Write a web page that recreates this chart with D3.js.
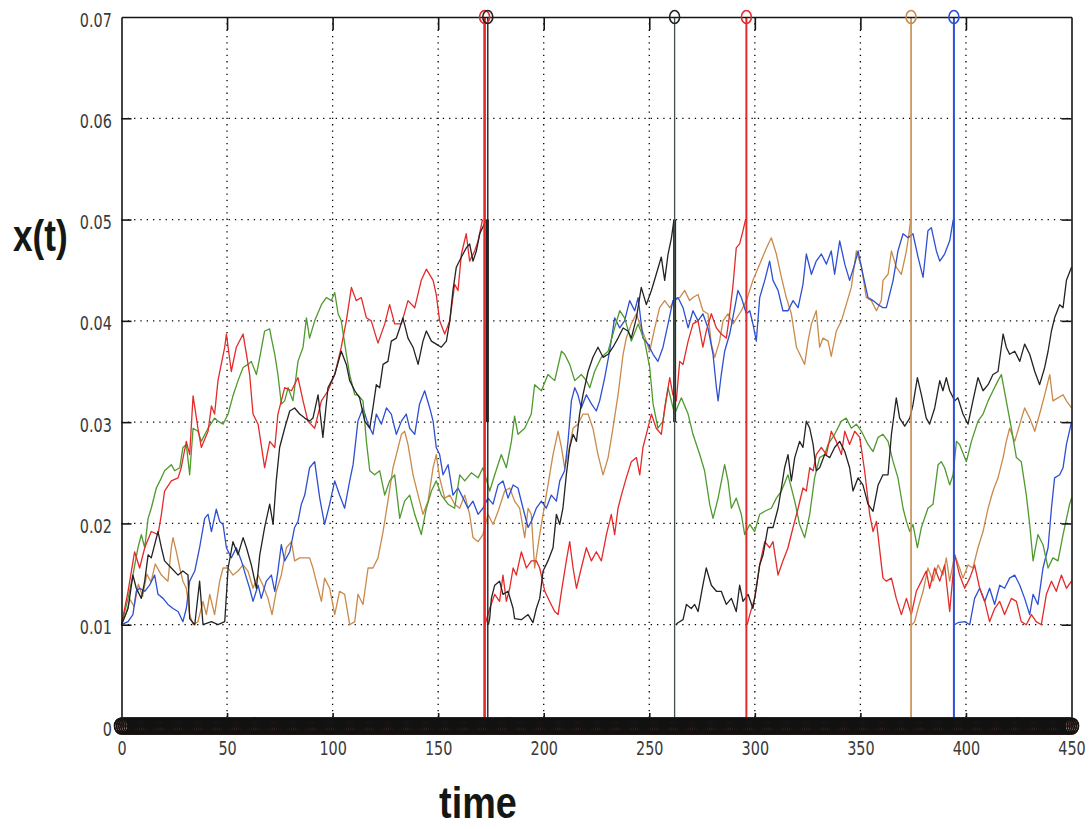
<!DOCTYPE html>
<html><head><meta charset="utf-8">
<script src="https://cdn.jsdelivr.net/npm/d3@7"></script>
<style>
html,body{margin:0;padding:0;background:#fff;}
svg{display:block;}
</style></head><body>
<svg id="chart" width="1092" height="829"></svg>
<script>
// ---------------- DATA ----------------
const xTicks = [0,50,100,150,200,250,300,350,400,450];
const xTickLabels = ['0','50','100','150','200','250','300','350','400','450'];
const yTicks = [0,0.01,0.02,0.03,0.04,0.05,0.06,0.07];
const yTickLabels = ['0','0.01','0.02','0.03','0.04','0.05','0.06','0.07'];
const xLabel = 'time';
const yLabel = 'x(t)';
const seriesOrder = ['brown','blue','green','red','black'];
const seriesColors = {red:'#e42a2a', green:'#4f9a2e', black:'#232323', blue:'#2d4fd2', brown:'#c98a4b'};

// null = restart after the threshold was hit
const red = [[0,0.0100],[3.1,0.0133],[6.2,0.0172],[8.6,0.0156],[11.0,0.0176],[14.1,0.0192],[17.3,0.0189],[18.9,0.0209],[20.4,0.0232],[23.6,0.0242],[26.8,0.0245],[28.3,0.0255],[30.7,0.0281],[32.3,0.0268],[33.9,0.0326],[36.2,0.0294],[37.8,0.0275],[41.0,0.0291],[42.6,0.0316],[44.1,0.0308],[45.7,0.0341],[48.9,0.0374],[49.7,0.0387],[52.0,0.0350],[54.4,0.0374],[57.6,0.0387],[59.2,0.0367],[60.7,0.0347],[62.3,0.0308],[64.7,0.0298],[67.8,0.0255],[70.2,0.0281],[72.6,0.0275],[74.1,0.0308],[77.3,0.0334],[80.5,0.0331],[83.6,0.0344],[86.0,0.0321],[88.3,0.0301],[91.5,0.0294],[94.7,0.0321],[97.8,0.0331],[101.0,0.0347],[104.1,0.0374],[106.5,0.0400],[108.9,0.0433],[111.2,0.0420],[113.6,0.0423],[116.0,0.0403],[118.3,0.0400],[121.5,0.0378],[124.7,0.0397],[127.0,0.0416],[129.4,0.0397],[132.6,0.0397],[135.7,0.0420],[138.9,0.0413],[142.0,0.0440],[144.4,0.0451],[147.6,0.0440],[149.1,0.0426],[150.7,0.0400],[153.1,0.0387],[155.5,0.0400],[157.8,0.0436],[159.4,0.0430],[161.0,0.0466],[163.3,0.0486],[164.9,0.0459],[167.3,0.0469],[168.9,0.0479],[171.0,0.0500],
null,
[172.2,0.0100],[174.4,0.0116],[176.8,0.0130],[179.1,0.0123],[180.7,0.0149],[182.3,0.0123],[183.9,0.0136],[185.5,0.0156],[187.0,0.0149],[189.4,0.0172],[191.8,0.0156],[194.1,0.0163],[196.5,0.0163],[198.1,0.0156],[200.5,0.0133],[202.8,0.0123],[205.2,0.0113],[206.8,0.0110],[208.4,0.0133],[210.7,0.0163],[212.3,0.0182],[213.9,0.0156],[215.5,0.0136],[217.8,0.0156],[220.2,0.0176],[222.6,0.0163],[224.9,0.0172],[227.3,0.0163],[229.7,0.0189],[232.0,0.0209],[233.6,0.0189],[235.2,0.0215],[236.8,0.0228],[239.1,0.0245],[241.5,0.0261],[243.9,0.0265],[245.5,0.0248],[247.0,0.0275],[248.6,0.0288],[251.0,0.0308],[253.3,0.0294],[255.7,0.0288],[257.3,0.0314],[259.7,0.0344],[261.2,0.0327],[262.8,0.0321],[264.4,0.0360],[266.0,0.0357],[268.4,0.0380],[270.7,0.0397],[273.1,0.0400],[275.4,0.0374],[277.0,0.0390],[279.4,0.0407],[281.8,0.0393],[284.1,0.0387],[286.5,0.0383],[288.1,0.0407],[289.7,0.0436],[291.2,0.0472],[292.8,0.0476],[294.4,0.0489],[295.6,0.0500],
null,
[296.4,0.0100],[297.6,0.0110],[299.9,0.0126],[302.3,0.0159],[304.7,0.0182],[307.0,0.0176],[308.6,0.0182],[311.0,0.0149],[313.3,0.0163],[315.7,0.0176],[318.1,0.0196],[320.5,0.0215],[322.8,0.0235],[324.4,0.0232],[326.0,0.0255],[327.6,0.0252],[329.1,0.0268],[331.5,0.0275],[333.9,0.0268],[336.2,0.0291],[338.6,0.0281],[341.0,0.0268],[342.6,0.0291],[344.9,0.0278],[347.3,0.0291],[349.7,0.0285],[352.0,0.0252],[354.4,0.0209],[356.0,0.0192],[357.6,0.0202],[359.9,0.0160],[360.7,0.0146],[362.3,0.0143],[364.7,0.0146],[367.0,0.0126],[369.4,0.0110],[371.8,0.0126],[374.1,0.0110],[376.5,0.0133],[378.9,0.0143],[381.2,0.0153],[382.8,0.0136],[385.2,0.0156],[387.6,0.0143],[389.9,0.0159],[392.3,0.0113],[394.7,0.0169],[397.0,0.0149],[399.4,0.0136],[401.8,0.0146],[404.1,0.0159],[406.5,0.0136],[408.9,0.0123],[411.2,0.0103],[413.6,0.0116],[416.0,0.0123],[418.3,0.0110],[421.5,0.0126],[423.9,0.0123],[426.2,0.0103],[428.6,0.0100],[431.0,0.0110],[433.3,0.0103],[435.7,0.0100],[438.1,0.0130],[440.5,0.0143],[442.8,0.0133],[445.2,0.0149],[447.6,0.0136],[450.0,0.0143]];

const green = [[0,0.0100],[0.7,0.0106],[3.1,0.0126],[5.4,0.0149],[7.8,0.0176],[9.4,0.0189],[11.0,0.0176],[12.6,0.0205],[14.1,0.0215],[16.5,0.0235],[18.9,0.0245],[20.4,0.0252],[23.6,0.0258],[25.2,0.0252],[27.6,0.0255],[29.1,0.0275],[30.7,0.0278],[32.3,0.0248],[33.9,0.0294],[36.2,0.0291],[37.8,0.0281],[41.0,0.0294],[44.1,0.0304],[45.7,0.0301],[48.1,0.0298],[50.5,0.0308],[52.8,0.0326],[55.2,0.0341],[57.6,0.0354],[59.9,0.0357],[61.5,0.0360],[63.9,0.0347],[65.5,0.0364],[67.8,0.0390],[70.2,0.0392],[71.0,0.0383],[72.6,0.0367],[74.1,0.0347],[75.7,0.0318],[77.3,0.0321],[78.9,0.0334],[81.2,0.0321],[83.6,0.0360],[86.0,0.0374],[87.6,0.0403],[89.1,0.0383],[91.5,0.0400],[94.7,0.0416],[97.0,0.0423],[99.4,0.0420],[101.0,0.0428],[102.6,0.0407],[104.1,0.0400],[106.5,0.0367],[108.1,0.0347],[110.5,0.0327],[112.0,0.0327],[114.4,0.0321],[116.0,0.0281],[117.6,0.0252],[119.9,0.0248],[122.3,0.0252],[124.7,0.0228],[127.0,0.0242],[129.4,0.0248],[131.8,0.0205],[134.1,0.0222],[136.5,0.0228],[138.9,0.0209],[142.0,0.0189],[144.4,0.0215],[146.8,0.0232],[149.1,0.0242],[151.5,0.0228],[154.7,0.0219],[157.8,0.0215],[160.2,0.0248],[162.6,0.0242],[165.7,0.0250],[168.9,0.0245],[171.2,0.0255],[174.4,0.0232],[176.8,0.0248],[179.9,0.0268],[182.3,0.0255],[184.7,0.0281],[186.2,0.0306],[187.8,0.0288],[191.0,0.0294],[194.1,0.0308],[195.7,0.0337],[198.9,0.0331],[202.0,0.0347],[205.2,0.0341],[208.4,0.0370],[209.9,0.0367],[212.3,0.0357],[214.7,0.0341],[217.8,0.0347],[220.2,0.0341],[221.8,0.0334],[224.1,0.0350],[227.3,0.0364],[230.5,0.0370],[233.6,0.0393],[236.0,0.0410],[238.3,0.0403],[241.5,0.0380],[244.7,0.0397],[247.8,0.0380],[250.2,0.0354],[251.8,0.0318],[254.1,0.0294],[256.5,0.0301],[258.9,0.0334],[262.0,0.0308],[265.2,0.0324],[268.4,0.0308],[270.7,0.0288],[273.9,0.0268],[276.2,0.0252],[278.6,0.0219],[280.2,0.0205],[282.6,0.0225],[285.7,0.0258],[287.3,0.0242],[288.9,0.0215],[291.2,0.0225],[293.6,0.0209],[295.2,0.0189],[297.6,0.0199],[299.9,0.0192],[302.3,0.0209],[304.7,0.0212],[307.8,0.0215],[310.2,0.0225],[312.6,0.0232],[315.7,0.0248],[318.9,0.0222],[321.2,0.0199],[323.6,0.0186],[326.0,0.0209],[328.3,0.0245],[330.7,0.0265],[333.1,0.0268],[334.7,0.0278],[337.8,0.0288],[341.0,0.0301],[343.3,0.0304],[345.7,0.0294],[348.1,0.0298],[350.5,0.0291],[353.6,0.0278],[356.0,0.0271],[358.4,0.0285],[360.7,0.0288],[363.1,0.0281],[365.5,0.0261],[367.8,0.0245],[370.2,0.0215],[371.8,0.0202],[373.4,0.0192],[374.9,0.0199],[377.0,0.0176],[378.9,0.0196],[382.0,0.0215],[384.4,0.0219],[386.8,0.0258],[388.3,0.0261],[389.9,0.0255],[392.3,0.0238],[393.9,0.0248],[395.5,0.0281],[397.0,0.0278],[400.2,0.0261],[402.6,0.0281],[405.7,0.0301],[408.1,0.0308],[410.5,0.0321],[412.8,0.0331],[415.2,0.0341],[416.8,0.0347],[419.1,0.0321],[421.5,0.0294],[423.9,0.0265],[426.2,0.0261],[428.6,0.0228],[430.2,0.0199],[431.8,0.0163],[434.1,0.0189],[436.5,0.0179],[438.9,0.0156],[441.2,0.0166],[443.6,0.0163],[446.0,0.0189],[449.1,0.0219],[450.0,0.0225]];

const black = [[0,0.0100],[3.1,0.0116],[5.4,0.0149],[7.0,0.0136],[9.4,0.0126],[11.0,0.0143],[12.6,0.0169],[14.1,0.0166],[17.3,0.0192],[18.9,0.0176],[20.4,0.0163],[23.6,0.0156],[26.8,0.0149],[29.1,0.0153],[31.5,0.0149],[32.3,0.0106],[34.7,0.0100],[37.0,0.0143],[38.6,0.0100],[42.6,0.0103],[45.7,0.0100],[48.9,0.0103],[50.5,0.0156],[52.8,0.0182],[55.2,0.0169],[57.6,0.0186],[59.2,0.0176],[61.5,0.0159],[63.9,0.0136],[65.5,0.0169],[67.8,0.0196],[70.2,0.0219],[71.8,0.0199],[73.3,0.0242],[74.9,0.0275],[77.3,0.0294],[79.7,0.0311],[82.0,0.0314],[84.4,0.0308],[86.8,0.0304],[89.1,0.0301],[90.7,0.0304],[93.1,0.0327],[95.4,0.0285],[97.8,0.0334],[101.0,0.0347],[104.1,0.0370],[106.5,0.0357],[108.1,0.0341],[110.5,0.0331],[112.8,0.0324],[115.2,0.0301],[117.6,0.0294],[119.1,0.0314],[120.7,0.0337],[122.3,0.0334],[123.9,0.0357],[126.2,0.0360],[127.8,0.0380],[130.2,0.0383],[131.8,0.0393],[133.3,0.0403],[135.7,0.0383],[138.1,0.0374],[140.5,0.0357],[142.8,0.0380],[144.4,0.0390],[146.8,0.0380],[149.1,0.0377],[151.5,0.0374],[153.9,0.0380],[155.5,0.0400],[157.0,0.0430],[158.6,0.0453],[161.0,0.0463],[163.3,0.0472],[164.9,0.0476],[166.5,0.0459],[168.1,0.0469],[169.7,0.0486],[172.8,0.0500],
null,
[173.8,0.0100],[174.4,0.0106],[175.2,0.0126],[176.8,0.0139],[179.1,0.0143],[180.7,0.0130],[183.1,0.0133],[185.5,0.0116],[186.2,0.0106],[189.4,0.0105],[192.6,0.0110],[194.9,0.0102],[196.5,0.0116],[198.1,0.0126],[199.7,0.0153],[202.0,0.0163],[204.4,0.0176],[206.0,0.0209],[207.6,0.0199],[209.1,0.0215],[210.7,0.0248],[212.3,0.0275],[213.9,0.0288],[215.5,0.0281],[217.0,0.0308],[218.6,0.0327],[221.0,0.0350],[223.3,0.0364],[225.7,0.0374],[228.1,0.0364],[230.5,0.0367],[232.8,0.0374],[235.2,0.0383],[237.6,0.0393],[239.9,0.0390],[241.5,0.0383],[243.9,0.0403],[246.2,0.0433],[248.6,0.0416],[251.0,0.0430],[253.3,0.0446],[255.7,0.0463],[257.3,0.0440],[258.9,0.0466],[260.5,0.0482],[261.7,0.0500],
null,
[262.5,0.0100],[263.6,0.0102],[266.0,0.0105],[267.6,0.0120],[269.9,0.0116],[271.5,0.0120],[273.1,0.0113],[275.4,0.0139],[277.0,0.0156],[279.4,0.0139],[281.8,0.0133],[284.1,0.0133],[286.5,0.0120],[288.9,0.0126],[291.2,0.0113],[292.8,0.0139],[294.4,0.0123],[296.8,0.0130],[299.1,0.0116],[300.7,0.0136],[302.3,0.0159],[303.9,0.0169],[306.2,0.0196],[308.6,0.0196],[311.0,0.0215],[312.6,0.0235],[314.1,0.0255],[315.7,0.0268],[317.3,0.0242],[318.9,0.0265],[321.2,0.0281],[322.8,0.0275],[324.4,0.0301],[326.0,0.0294],[327.6,0.0278],[329.1,0.0252],[330.7,0.0255],[333.1,0.0268],[335.5,0.0265],[337.8,0.0275],[340.2,0.0281],[342.6,0.0271],[344.9,0.0255],[346.5,0.0232],[348.9,0.0245],[351.2,0.0238],[353.6,0.0219],[356.0,0.0212],[358.4,0.0238],[360.7,0.0248],[363.1,0.0248],[364.7,0.0288],[367.0,0.0324],[368.6,0.0304],[371.0,0.0296],[373.4,0.0304],[374.9,0.0317],[377.0,0.0344],[378.9,0.0327],[381.2,0.0304],[382.8,0.0298],[385.2,0.0314],[387.6,0.0341],[389.1,0.0331],[390.7,0.0344],[392.3,0.0331],[394.7,0.0321],[396.2,0.0324],[398.6,0.0308],[401.0,0.0298],[403.3,0.0321],[405.7,0.0344],[408.1,0.0331],[410.5,0.0337],[412.8,0.0347],[415.2,0.0350],[417.6,0.0387],[419.1,0.0374],[420.7,0.0367],[423.1,0.0370],[425.5,0.0360],[427.8,0.0377],[430.2,0.0367],[432.6,0.0350],[434.9,0.0337],[437.3,0.0354],[438.9,0.0370],[440.5,0.0390],[442.0,0.0403],[444.4,0.0416],[446.0,0.0413],[447.6,0.0440],[450.0,0.0453]];

const blue = [[0,0.0100],[3.1,0.0103],[5.4,0.0110],[7.0,0.0133],[8.6,0.0136],[11.0,0.0133],[13.3,0.0139],[15.7,0.0149],[17.3,0.0130],[19.7,0.0126],[22.0,0.0120],[24.4,0.0116],[26.8,0.0113],[29.1,0.0103],[30.7,0.0116],[32.3,0.0143],[34.7,0.0153],[37.0,0.0176],[39.4,0.0205],[41.0,0.0209],[42.6,0.0192],[44.9,0.0214],[46.5,0.0202],[48.1,0.0199],[49.7,0.0176],[52.0,0.0166],[54.4,0.0176],[56.8,0.0163],[59.2,0.0146],[60.7,0.0136],[62.3,0.0123],[64.7,0.0139],[66.2,0.0126],[68.6,0.0143],[71.0,0.0149],[72.6,0.0133],[74.1,0.0153],[75.7,0.0179],[77.3,0.0163],[79.7,0.0172],[82.0,0.0196],[83.6,0.0202],[85.2,0.0219],[86.8,0.0228],[89.1,0.0255],[91.5,0.0261],[93.9,0.0225],[96.2,0.0199],[98.6,0.0219],[101.0,0.0242],[103.3,0.0228],[105.7,0.0215],[108.1,0.0242],[109.7,0.0258],[112.0,0.0301],[114.4,0.0314],[116.8,0.0298],[119.1,0.0288],[120.7,0.0308],[123.1,0.0298],[125.5,0.0314],[127.8,0.0308],[130.2,0.0288],[132.6,0.0301],[134.9,0.0308],[136.5,0.0294],[138.9,0.0288],[141.2,0.0318],[143.6,0.0331],[146.0,0.0314],[147.6,0.0301],[149.1,0.0275],[150.7,0.0268],[152.3,0.0248],[154.7,0.0258],[157.0,0.0228],[159.4,0.0235],[161.8,0.0225],[164.1,0.0215],[166.5,0.0222],[168.9,0.0209],[171.2,0.0215],[173.6,0.0225],[176.0,0.0219],[178.4,0.0238],[180.7,0.0242],[183.1,0.0225],[185.5,0.0238],[187.8,0.0235],[190.2,0.0215],[192.6,0.0196],[194.1,0.0202],[196.5,0.0215],[198.9,0.0222],[201.2,0.0215],[203.6,0.0228],[206.0,0.0222],[207.6,0.0242],[209.9,0.0252],[211.5,0.0281],[213.1,0.0321],[214.7,0.0334],[216.2,0.0327],[217.8,0.0314],[220.2,0.0327],[222.6,0.0318],[224.9,0.0311],[226.5,0.0321],[228.9,0.0344],[231.2,0.0370],[233.6,0.0403],[236.0,0.0393],[238.3,0.0400],[240.7,0.0420],[243.1,0.0410],[244.7,0.0423],[247.0,0.0383],[249.4,0.0377],[251.8,0.0367],[254.1,0.0360],[256.5,0.0374],[258.9,0.0397],[261.2,0.0420],[263.6,0.0423],[266.0,0.0413],[268.4,0.0393],[270.7,0.0410],[273.1,0.0400],[275.4,0.0407],[277.8,0.0393],[280.2,0.0367],[281.8,0.0334],[282.6,0.0321],[284.1,0.0347],[285.7,0.0370],[288.1,0.0387],[290.5,0.0413],[292.0,0.0430],[293.6,0.0423],[296.0,0.0407],[297.6,0.0410],[299.1,0.0397],[300.7,0.0380],[302.3,0.0423],[304.7,0.0440],[307.0,0.0459],[308.6,0.0440],[311.0,0.0430],[313.3,0.0410],[315.7,0.0410],[318.1,0.0420],[320.5,0.0413],[322.8,0.0436],[324.4,0.0466],[326.8,0.0446],[329.1,0.0459],[331.5,0.0466],[333.9,0.0456],[336.2,0.0469],[337.8,0.0446],[340.2,0.0479],[342.6,0.0456],[344.9,0.0440],[347.3,0.0456],[348.9,0.0469],[351.2,0.0446],[353.6,0.0423],[356.0,0.0420],[358.4,0.0416],[360.7,0.0413],[362.3,0.0413],[365.5,0.0440],[367.8,0.0469],[370.2,0.0486],[372.6,0.0482],[374.9,0.0486],[377.3,0.0463],[379.7,0.0443],[382.0,0.0489],[383.6,0.0492],[386.0,0.0469],[387.6,0.0459],[389.9,0.0466],[392.3,0.0479],[394.0,0.0500],
null,
[394.6,0.0100],[396.2,0.0102],[399.4,0.0103],[401.8,0.0100],[404.1,0.0126],[406.5,0.0136],[408.9,0.0123],[411.2,0.0136],[413.6,0.0120],[416.0,0.0139],[418.3,0.0136],[420.7,0.0146],[423.1,0.0149],[425.5,0.0139],[427.8,0.0126],[430.2,0.0110],[431.8,0.0130],[434.1,0.0120],[436.5,0.0156],[438.9,0.0176],[440.5,0.0215],[442.0,0.0245],[444.4,0.0248],[446.0,0.0255],[447.6,0.0278],[450.0,0.0300]];

const brown = [[0,0.0100],[2.0,0.0110],[4.0,0.0125],[6.0,0.0118],[8.0,0.0140],[10.0,0.0128],[12.0,0.0150],[14.0,0.0142],[16.0,0.0160],[18.9,0.0149],[22.0,0.0143],[23.6,0.0176],[24.4,0.0186],[26.0,0.0172],[27.6,0.0156],[29.1,0.0143],[30.7,0.0136],[32.3,0.0110],[33.9,0.0100],[36.2,0.0103],[38.6,0.0123],[40.2,0.0110],[41.8,0.0130],[44.1,0.0110],[46.5,0.0143],[48.1,0.0156],[50.5,0.0156],[52.8,0.0149],[55.2,0.0153],[57.6,0.0159],[59.9,0.0153],[62.3,0.0136],[64.7,0.0149],[67.0,0.0139],[69.4,0.0126],[71.3,0.0110],[73.3,0.0133],[75.7,0.0149],[78.1,0.0176],[80.5,0.0182],[82.0,0.0163],[84.4,0.0166],[86.8,0.0166],[89.1,0.0166],[90.7,0.0156],[91.5,0.0149],[94.7,0.0123],[96.2,0.0146],[98.6,0.0136],[101.0,0.0110],[103.3,0.0133],[105.7,0.0130],[108.1,0.0100],[110.5,0.0103],[112.0,0.0130],[114.4,0.0120],[116.8,0.0156],[119.1,0.0156],[121.5,0.0166],[123.9,0.0192],[126.2,0.0222],[128.6,0.0255],[130.2,0.0268],[132.6,0.0288],[134.1,0.0291],[135.7,0.0278],[138.1,0.0248],[140.5,0.0228],[142.8,0.0209],[145.2,0.0222],[147.6,0.0255],[149.1,0.0268],[150.7,0.0245],[153.1,0.0225],[155.5,0.0228],[157.8,0.0219],[160.2,0.0215],[162.6,0.0228],[164.9,0.0209],[166.5,0.0186],[168.9,0.0182],[171.2,0.0189],[173.6,0.0209],[176.0,0.0199],[178.4,0.0212],[181.5,0.0232],[183.9,0.0235],[186.2,0.0222],[188.6,0.0215],[191.0,0.0186],[192.6,0.0215],[194.1,0.0209],[195.7,0.0156],[198.1,0.0189],[200.5,0.0219],[202.8,0.0248],[204.4,0.0268],[206.8,0.0291],[208.4,0.0275],[209.9,0.0255],[211.5,0.0268],[213.9,0.0294],[216.2,0.0298],[218.6,0.0308],[221.0,0.0308],[223.3,0.0294],[225.7,0.0268],[228.1,0.0248],[230.5,0.0265],[232.8,0.0294],[235.2,0.0327],[237.6,0.0367],[239.1,0.0383],[241.5,0.0397],[243.9,0.0407],[246.2,0.0393],[248.6,0.0380],[250.2,0.0370],[252.6,0.0393],[254.9,0.0413],[257.3,0.0420],[259.7,0.0413],[262.0,0.0420],[264.4,0.0423],[266.8,0.0430],[269.1,0.0420],[270.7,0.0423],[273.1,0.0426],[275.4,0.0410],[277.8,0.0407],[279.4,0.0377],[281.0,0.0364],[283.3,0.0380],[284.9,0.0400],[287.3,0.0407],[289.7,0.0397],[293.6,0.0410],[296.0,0.0420],[299.1,0.0440],[302.3,0.0456],[305.5,0.0472],[307.8,0.0482],[310.2,0.0466],[312.6,0.0443],[314.9,0.0423],[317.3,0.0407],[319.7,0.0374],[322.0,0.0364],[323.6,0.0357],[325.2,0.0380],[326.8,0.0397],[329.1,0.0410],[330.7,0.0374],[332.3,0.0383],[334.7,0.0380],[336.2,0.0365],[338.6,0.0390],[341.0,0.0400],[343.3,0.0416],[345.7,0.0433],[348.1,0.0469],[350.5,0.0453],[352.8,0.0423],[355.2,0.0420],[357.6,0.0410],[359.9,0.0420],[360.7,0.0440],[363.1,0.0446],[364.7,0.0469],[367.0,0.0453],[369.4,0.0446],[371.8,0.0469],[373.0,0.0486],[373.8,0.0500],
null,
[374.4,0.0100],[375.7,0.0103],[377.3,0.0116],[379.7,0.0133],[382.0,0.0156],[384.4,0.0143],[386.8,0.0159],[389.1,0.0149],[390.7,0.0166],[392.3,0.0143],[394.7,0.0169],[397.0,0.0156],[398.6,0.0146],[401.0,0.0159],[403.3,0.0156],[405.7,0.0176],[408.1,0.0192],[410.5,0.0215],[412.8,0.0232],[415.2,0.0245],[417.6,0.0265],[419.1,0.0281],[420.7,0.0294],[423.1,0.0281],[425.5,0.0298],[427.8,0.0314],[430.2,0.0304],[432.6,0.0291],[434.9,0.0308],[437.3,0.0327],[439.7,0.0347],[441.2,0.0321],[443.6,0.0324],[446.0,0.0327],[447.6,0.0321],[450.0,0.0314]];

// threshold hits: time and which series
const eventTimes = [172.0, 173.5, 262.0, 296.0, 374.0, 394.3];
const eventSeries = ['red','black','black','red','brown','blue'];
const eventMarkerLevel = 0.07;
// short heavy black drop drawn at two of the black hits
const blackDropTimes = [173.3, 262.0];
const blackDropRange = [0.05, 0.03];
// zero-level markers: one per time step for every series
const markerTimes = d3.range(0, 451, 1);

const seriesData = {red, green, black, blue, brown};

// ---------------- DRAW ----------------
const svg = d3.select('#chart');
svg.append('rect').attr('width',1092).attr('height',829).attr('fill','#fff');

const X0 = 121.5, X1 = 1071.5, Y0 = 726, Y1 = 17;
const x = d3.scaleLinear().domain([0,450]).range([X0,X1]);
const y = d3.scaleLinear().domain([0,0.07]).range([Y0,Y1]);
const tickFont = '"Liberation Sans Narrow","Arial Narrow","DejaVu Sans Condensed",sans-serif';

// grid
const grid = svg.append('g');
grid.selectAll('line.gx').data(xTicks.slice(1,-1)).join('line')
  .attr('x1',d=>x(d)).attr('x2',d=>x(d)).attr('y1',Y1).attr('y2',Y0)
  .attr('stroke','#000').attr('stroke-width',1.3).attr('stroke-dasharray','1.3,5');
grid.selectAll('line.gy').data(yTicks.slice(1,-1)).join('line')
  .attr('y1',d=>y(d)).attr('y2',d=>y(d)).attr('x1',X0).attr('x2',X1)
  .attr('stroke','#000').attr('stroke-width',1.3).attr('stroke-dasharray','1.3,5');

// series
const line = d3.line().defined(d=>d!==null).x(d=>x(d[0])).y(d=>y(d[1]));
const lines = svg.append('g');
seriesOrder.forEach(name=>{
  lines.append('path').datum(seriesData[name]).attr('d',line)
    .attr('fill','none').attr('stroke',seriesColors[name]).attr('stroke-width',1.3)
    .attr('stroke-linejoin','round');
});

// heavy black drops
svg.append('g').selectAll('line').data(blackDropTimes).join('line')
  .attr('x1',d=>x(d)).attr('x2',d=>x(d))
  .attr('y1',y(blackDropRange[0])).attr('y2',y(blackDropRange[1]))
  .attr('stroke',seriesColors.black).attr('stroke-width',3);

// stems
const stemW = [2.6,1.4,1.3,2,1.6,2];
const stems = svg.append('g');
eventTimes.forEach((t,i)=>{
  stems.append('line').attr('x1',x(t)).attr('x2',x(t)).attr('y1',y(eventMarkerLevel)).attr('y2',y(0))
    .attr('stroke', i===2 ? '#44504a' : seriesColors[eventSeries[i]]).attr('stroke-width',stemW[i]);
});

// axes (MATLAB style, ticks inward)
const fmtY = d=>yTickLabels[yTicks.indexOf(d)];
const fmtX = d=>xTickLabels[xTicks.indexOf(d)];
const axisStyle = g=>{
  g.select('.domain').attr('stroke','#151515').attr('stroke-width',1.6);
  g.selectAll('.tick line').attr('stroke','#151515').attr('stroke-width',1.6);
  g.selectAll('text').attr('font-family',tickFont).attr('font-size',20).attr('fill','#3a3a3a');
};
const gL = svg.append('g').attr('transform',`translate(${X0},0)`)
  .call(d3.axisLeft(y).tickValues(yTicks).tickSize(-10).tickSizeOuter(0).tickPadding(12).tickFormat(fmtY)).call(axisStyle);
gL.selectAll('text').attr('dy','9px').attr('transform','scale(0.8,1)');
gL.selectAll('.tick').filter(d=>d===0||d===0.07).select('line').remove();
svg.append('g').attr('transform',`translate(${X1},0)`)
  .call(d3.axisRight(y).tickValues(yTicks.slice(1,-1)).tickSize(-10).tickSizeOuter(0).tickFormat('')).call(axisStyle);
svg.append('g').attr('transform',`translate(0,${Y1})`)
  .call(d3.axisTop(x).tickValues(xTicks.slice(1,-1)).tickSize(-13).tickSizeOuter(0).tickFormat('')).call(axisStyle);
const gB = svg.append('g').attr('transform',`translate(0,${Y0})`)
  .call(d3.axisBottom(x).tickValues(xTicks).tickSize(-13).tickSizeOuter(0).tickPadding(15).tickFormat(fmtX)).call(axisStyle);
gB.selectAll('.tick').filter(d=>d===0||d===450).select('line').remove();
gB.selectAll('text').attr('transform','scale(0.8,1)');

// zero-level markers band
const band = svg.append('g');
seriesOrder.forEach(name=>{
  band.selectAll(null).data(markerTimes).join('ellipse')
    .attr('cx',d=>x(d)).attr('cy',y(0)).attr('rx',7).attr('ry',8)
    .attr('fill','none').attr('stroke', name==='black' ? '#121212' : seriesColors[name])
    .attr('stroke-width', name==='black' ? 1.7 : 1.1);
});

// top event markers
svg.append('g').selectAll('ellipse').data(eventTimes).join('ellipse')
  .attr('cx',d=>x(d)).attr('cy',y(eventMarkerLevel)).attr('rx',5).attr('ry',6.5)
  .attr('fill','none').attr('stroke',(d,i)=>seriesColors[eventSeries[i]]).attr('stroke-width',1.6);

// axis labels
svg.append('text').text(yLabel)
  .attr('transform','translate(13,251) scale(0.8,1)')
  .attr('font-family','"Liberation Sans Narrow","Arial Narrow","Liberation Sans",sans-serif')
  .attr('font-weight','bold').attr('font-size',44).attr('fill','#141814');
svg.append('text').text(xLabel)
  .attr('transform','translate(478,818) scale(0.86,1)').attr('text-anchor','middle')
  .attr('font-family','"Liberation Sans Narrow","Arial Narrow","Liberation Sans",sans-serif')
  .attr('font-weight','bold').attr('font-size',44).attr('fill','#141814');
</script>
</body></html>
